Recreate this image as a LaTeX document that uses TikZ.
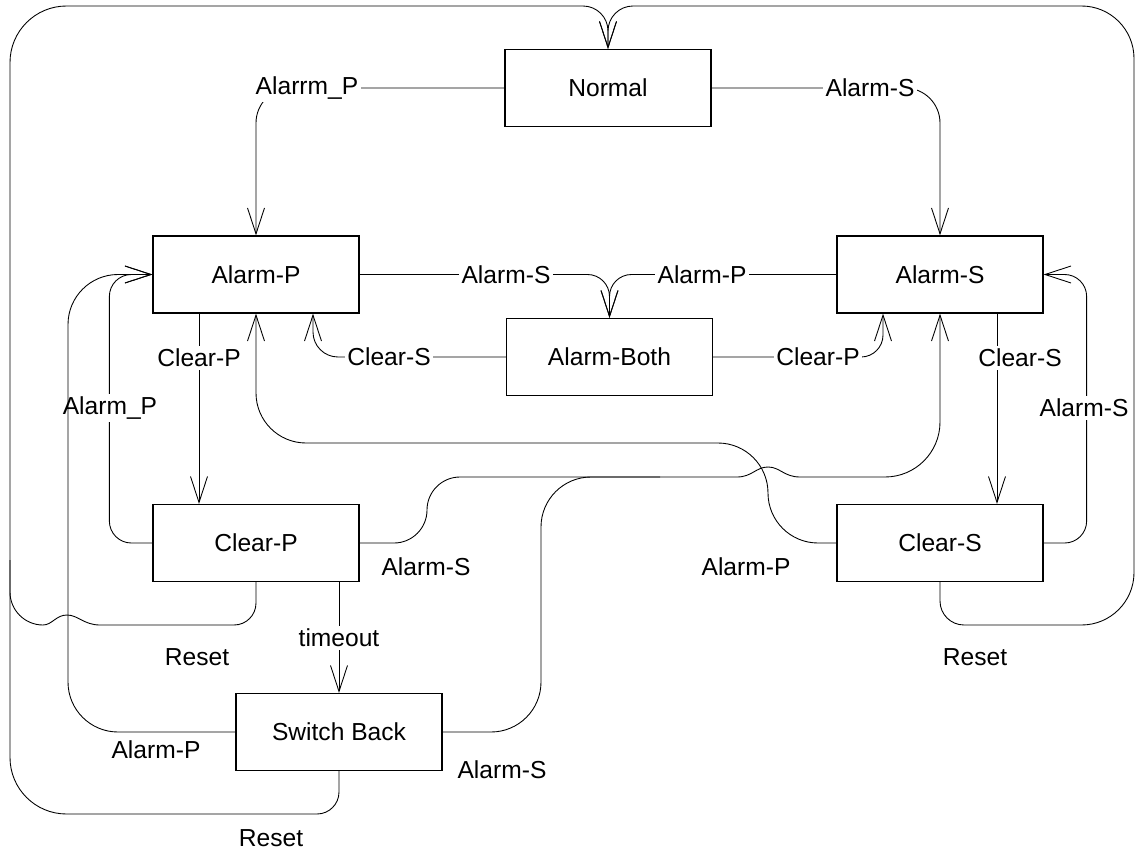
\documentclass[tikz,border=0pt]{standalone}
\usepackage{fontspec}
\setmainfont{Liberation Sans}
\usetikzlibrary{arrows.meta}

\begin{document}
\begin{tikzpicture}[
  x=0.02cm, y=-0.02cm,
  >={Straight Barb[length=5.2mm, width=3.4mm]},
  state/.style={rectangle, draw, line width=0.75pt, minimum width=4.12cm, minimum height=1.54cm, inner sep=0pt, font=\fontsize{14}{16}\selectfont},
  arrow/.style={->, line width=0.5pt},
  link/.style={line width=0.5pt},
  lbl/.style={fill=white, inner sep=1.5pt, font=\fontsize{14}{16}\selectfont},
  tag/.style={inner sep=1.5pt, font=\fontsize{14}{16}\selectfont}
]
\useasboundingbox (0,0) rectangle (1139,852);

% States
\node[state] (normal) at (608,88) {Normal};
\node[state] (alarmp) at (256,274.5) {Alarm-P};
\node[state] (alarms) at (940,274.5) {Alarm-S};
\node[state] (both) at (609.5,357) {Alarm-Both};
\node[state] (clearp) at (256,543) {Clear-P};
\node[state] (clears) at (940,543) {Clear-S};
\node[state] (back) at (339,732) {Switch Back};

% Out of Normal
\draw[arrow, rounded corners=0.7cm] (normal.west) -| (alarmp.north);
\node[lbl] (l-np) at (307,88) {Alarrm\_P};
\draw[arrow, rounded corners=0.7cm] (normal.east) -| (alarms.north);
\node[lbl] (l-ns) at (870,88) {Alarm-S};

% Into Alarm-Both
\draw[arrow, rounded corners=0.44cm] (alarmp.east) -| (both.north);
\node[lbl] (l-pb) at (506,275) {Alarm-S};
\draw[arrow, rounded corners=0.44cm] (alarms.west) -| (both.north);
\node[lbl] (l-sb) at (702,275) {Alarm-P};

% Out of Alarm-Both
\draw[arrow, rounded corners=0.5cm] (both.west) -| ([xshift=1.14cm]alarmp.south);
\node[lbl] (l-bp) at (389,357) {Clear-S};
\draw[arrow, rounded corners=0.44cm] (both.east) -| ([xshift=-1.14cm]alarms.south);
\node[lbl] (l-bs) at (818,357) {Clear-P};

% Down to Clear-P / Clear-S
\draw[arrow] ([xshift=-1.14cm]alarmp.south) -- ([xshift=-1.14cm]clearp.north);
\node[lbl] (l-pc) at (199,358) {Clear-P};
\draw[arrow] ([xshift=1.14cm]alarms.south) -- ([xshift=1.14cm]clears.north);
\node[lbl] (l-sc) at (1020,358) {Clear-S};

% Back up from Clear-P / Clear-S
\draw[arrow, rounded corners=0.44cm] (clearp.west) -- ++(-43,0) |- (alarmp.west);
\node[lbl] (l-cp) at (110,408) {Alarm\_P};
\draw[arrow, rounded corners=0.44cm] (clears.east) -- ++(43,0) |- (alarms.east);
\node[lbl] (l-cs) at (1084,408) {Alarm-S};

% Switch Back to Alarm-P
\draw[arrow, rounded corners=1cm] (back.west) -| (68,500) |- (alarmp.west);
\node[tag] (l-bkp) at (156,750) {Alarm-P};

% Towards Alarm-S from below (jump over the Clear-S line)
\draw[arrow] (clearp.east) -- (394,543) .. controls (412.2,543) and (427,528.2) .. (427,510)
  .. controls (427,491.8) and (441.8,477) .. (460,477) -- (737,477)
  .. controls (752,477) and (756,467) .. (768,467) .. controls (780,467) and (784,477) .. (800,477)
  -- (885,477) .. controls (915.4,477) and (940,452.4) .. (940,422) -- (alarms.south);
\node[tag] (l-cps) at (426,567) {Alarm-S};
\coordinate (merge) at (660,477);
\draw[link, rounded corners=1cm] (back.east) -- (541,732) -- (541,477) -- (merge);
\node[tag] (l-bks) at (502,770) {Alarm-S};

% Clear-S to Alarm-P
\draw[arrow, rounded corners=1cm] (clears.west) -- (768,543) -- (768,443) -- (256,443) -- (alarmp.south);
\node[tag] (l-csp) at (746,567) {Alarm-P};

% timeout
\draw[arrow] (back.north |- clearp.south) -- (back.north);
\node[lbl] (l-to) at (339,638) {timeout};

% Reset
\coordinate (lmerge) at (10,560);
\draw[link] (clearp.south) -- (256,603) .. controls (256,615.2) and (246.2,625) .. (234,625) -- (100,625)
  .. controls (84,625) and (78,615) .. (67,615) .. controls (56,615) and (52,625) .. (43,625)
  .. controls (24.8,625) and (10,610.2) .. (10,592) -- (lmerge);
\node[tag] (l-cpr) at (197,657) {Reset};
\draw[arrow, rounded corners=0.44cm] (back.south) -- (339,814) -- (200,814)
  [rounded corners=1.13cm] -- (10,814) -- (10,6) -- (300,6)
  [rounded corners=0.5cm] -- (608,6) -- (normal.north);
\node[tag] (l-bkr) at (271,838) {Reset};
\draw[arrow, rounded corners=0.48cm] (clears.south) -- (940,625) -- (1000,625)
  [rounded corners=1.05cm] -- (1134,625) -- (1134,6) -- (900,6)
  [rounded corners=0.5cm] -- (608,6) -- (normal.north);
\node[tag] (l-csr) at (975,657) {Reset};

\end{tikzpicture}
\end{document}
